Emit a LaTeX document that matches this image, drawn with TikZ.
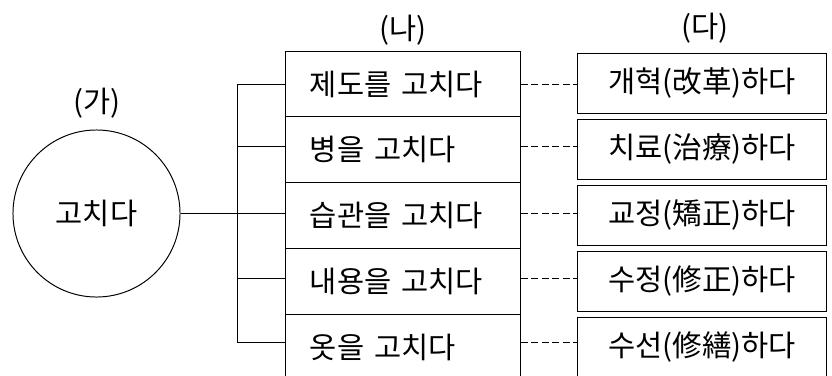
\documentclass[tikz,border=0pt]{standalone}
\usepackage{fontspec}
\setmainfont[WordSpace=2]{Noto Sans CJK KR}
\usetikzlibrary{positioning}

\begin{document}
\begin{tikzpicture}
  [x=0.025cm, y=-0.025cm, line width=0.7pt,
   word/.style={font=\fontsize{21}{23}\selectfont},
   usage/.style={word, draw, text width=4.65cm, inner xsep=0.6cm,
                 minimum height=1.645cm, align=left},
   meaning/.style={word, draw, minimum width=6.2cm, minimum height=1.5cm},
   link/.style={dash pattern=on 5pt off 2.5pt}]
  \useasboundingbox (0,0) rectangle (832,375);
  \clip (0,0) rectangle (832,375);
  \node (root) at (96.5,213.5) [word, circle, draw, minimum size=4.175cm] {고치다};
  \node (ga) at (97,103) [word] {(가)};
  \node (na) at (403,30) [word] {(나)};
  \node (da) at (705,28) [word] {(다)};
  \foreach \i/\y/\a/\b in {1/84/제도를 고치다/개혁(改革)하다,
                           2/146/병을 고치다/치료(治療)하다,
                           3/213/습관을 고치다/교정(矯正)하다,
                           4/278/내용을 고치다/수정(修正)하다,
                           5/342/옷을 고치다/수선(修繕)하다}{
    \node (n\i) at (403, {84+65.8*(\i-1)}) [usage] {\a};
    \node (d\i) at (702, {83+66*(\i-1)}) [meaning] {\b};
    \coordinate (b\i) at (237, \y);
    \draw (b\i) -- (b\i -| n\i.west);
    \draw [link] (b\i -| n\i.east) -- (b\i -| d\i.west);
  }
  \draw (b1) -- (b5);
  \draw (root) -- (root -| b3);
\end{tikzpicture}
\end{document}
